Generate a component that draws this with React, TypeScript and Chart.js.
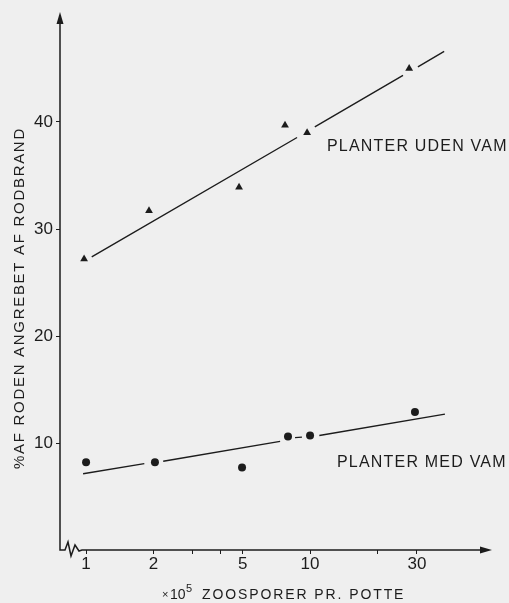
import { useEffect, useRef } from "react";
import { Chart, registerables } from "chart.js";

Chart.register(...registerables);

// ---- data ----
const xTickValues = [1, 2, 3, 4, 5, 10, 20, 30];
const xTickLabels = ["1", "2", "", "", "5", "10", "", "30"];
const yTickValues = [10, 20, 30, 40];

// planter uden VAM (triangles)
const udenX = [0.98, 1.91, 4.82, 7.73, 9.7, 27.7];
const udenY = [27.2, 31.7, 33.9, 39.7, 39.0, 45.0];

// planter med VAM (circles)
const medX = [1.0, 2.03, 4.97, 7.97, 10.0, 29.4];
const medY = [8.2, 8.2, 7.7, 10.6, 10.7, 12.9];

// fitted lines, as drawn (null = break in the line)
const udenFitX = [1.06, 8.75, 9.6, 10.5, 26.0, 28.0, 30.3, 39.7];
const udenFitY = [27.4, 38.55, null, 39.55, 44.35, null, 45.15, 46.6];

const medFitX = [0.97, 1.82, 1.95, 2.21, 7.35, 8.0, 8.57, 9.2, 9.6, 11.0, 40.0];
const medFitY = [7.13, 8.07, null, 8.3, 10.15, null, 10.5, 10.55, null, 10.7, 12.7];

const yTitle = "%AF RODEN ANGREBET AF RODBRAND";
const xTitleMain = "ZOOSPORER PR. POTTE";
const labelUden = "PLANTER UDEN VAM";
const labelMed = "PLANTER MED VAM";

const BG = "#efefef";
const INK = "#1c1c1c";
const FONT = '"Liberation Sans", Arial, sans-serif';

const zip = (xs: number[], ys: (number | null)[]) => xs.map((x, i) => ({ x, y: ys[i] }));

export default function App() {
  const ref = useRef<HTMLCanvasElement>(null);

  useEffect(() => {
    document.body.style.margin = "0";
    document.body.style.background = BG;

    const bgPlugin = {
      id: "bg",
      beforeDraw(chart: any) {
        const ctx = chart.ctx;
        ctx.save();
        ctx.fillStyle = BG;
        ctx.fillRect(0, 0, chart.width, chart.height);
        ctx.restore();
      },
    };

    const axesPlugin = {
      id: "axesDeco",
      beforeDatasetsDraw(chart: any) {
        const ctx = chart.ctx;
        const { left, top, right, bottom } = chart.chartArea;
        ctx.save();
        ctx.strokeStyle = INK;
        ctx.fillStyle = INK;
        ctx.lineWidth = 1.5;
        ctx.lineJoin = "miter";
        ctx.beginPath();
        ctx.moveTo(left, top + 6);
        ctx.lineTo(left, bottom);
        ctx.lineTo(left + 5, bottom);
        ctx.lineTo(left + 8, bottom - 8);
        ctx.lineTo(left + 11, bottom + 6);
        ctx.lineTo(left + 15, bottom - 5);
        ctx.lineTo(left + 19, bottom + 1);
        ctx.lineTo(left + 22, bottom);
        ctx.lineTo(right - 8, bottom);
        ctx.stroke();
        // arrow heads
        ctx.beginPath();
        ctx.moveTo(left, top - 3);
        ctx.lineTo(left - 3.5, top + 9);
        ctx.lineTo(left + 3.5, top + 9);
        ctx.closePath();
        ctx.fill();
        ctx.beginPath();
        ctx.moveTo(right, bottom);
        ctx.lineTo(right - 12, bottom - 3.5);
        ctx.lineTo(right - 12, bottom + 3.5);
        ctx.closePath();
        ctx.fill();
        ctx.restore();
      },
      afterDraw(chart: any) {
        const ctx = chart.ctx;
        ctx.save();
        ctx.fillStyle = INK;
        ctx.textBaseline = "alphabetic";

        // series labels
        ctx.font = `16px ${FONT}`;
        (ctx as any).letterSpacing = "1.2px";
        ctx.textAlign = "left";
        ctx.fillText(labelUden, 327, 151);
        ctx.fillText(labelMed, 337, 467);

        // x title
        ctx.font = `11px ${FONT}`;
        (ctx as any).letterSpacing = "0px";
        ctx.fillText("×", 162, 598);
        ctx.font = `14px ${FONT}`;
        ctx.fillText("10", 170, 599);
        ctx.font = `11px ${FONT}`;
        ctx.fillText("5", 186, 592);
        ctx.font = `14px ${FONT}`;
        (ctx as any).letterSpacing = "1.9px";
        ctx.fillText(xTitleMain, 202, 599);

        // y title
        ctx.translate(24, 298);
        ctx.rotate(-Math.PI / 2);
        ctx.textAlign = "center";
        ctx.font = `15px ${FONT}`;
        (ctx as any).letterSpacing = "1.7px";
        ctx.fillText(yTitle, 0, 0);
        ctx.restore();
      },
    };

    const chart = new Chart(ref.current!, {
      type: "scatter",
      data: {
        datasets: [
          {
            type: "line",
            label: "fit uden",
            data: zip(udenFitX, udenFitY) as any,
            borderColor: INK,
            borderWidth: 1.4,
            pointRadius: 0,
            spanGaps: false,
            fill: false,
          },
          {
            type: "line",
            label: "fit med",
            data: zip(medFitX, medFitY) as any,
            borderColor: INK,
            borderWidth: 1.4,
            pointRadius: 0,
            spanGaps: false,
            fill: false,
          },
          {
            label: labelUden,
            data: zip(udenX, udenY) as any,
            pointStyle: "triangle",
            pointRadius: 4.5,
            backgroundColor: INK,
            borderColor: INK,
            borderWidth: 0,
          },
          {
            label: labelMed,
            data: zip(medX, medY) as any,
            pointStyle: "circle",
            pointRadius: 4,
            backgroundColor: INK,
            borderColor: INK,
            borderWidth: 0,
          },
        ],
      },
      options: {
        responsive: false,
        animation: false,
        layout: { padding: { left: 0, top: 15, right: 17, bottom: 0 } },
        plugins: {
          legend: { display: false },
          tooltip: { enabled: false },
        },
        scales: {
          x: {
            type: "logarithmic",
            min: 0.765,
            max: 64.9,
            afterBuildTicks: (s: any) => {
              s.ticks = xTickValues.map((v) => ({ value: v }));
            },
            afterFit: (s: any) => {
              s.height = 53;
            },
            ticks: {
              autoSkip: false,
              maxRotation: 0,
              padding: 0,
              color: INK,
              font: { family: FONT, size: 17 },
              callback: (_v: any, i: number) => xTickLabels[i],
            },
            grid: {
              display: true,
              drawOnChartArea: false,
              drawTicks: true,
              tickLength: 4,
              color: INK,
              lineWidth: 1,
            },
            border: { display: false },
          },
          y: {
            min: 0,
            max: 50,
            afterBuildTicks: (s: any) => {
              s.ticks = yTickValues.map((v) => ({ value: v }));
            },
            afterFit: (s: any) => {
              s.width = 60;
            },
            ticks: {
              padding: 3,
              color: INK,
              font: { family: FONT, size: 17 },
              callback: (v: any) => String(v),
            },
            grid: {
              display: true,
              drawOnChartArea: false,
              drawTicks: true,
              tickLength: 4,
              color: INK,
              lineWidth: 1,
            },
            border: { display: false },
          },
        },
      },
      plugins: [bgPlugin, axesPlugin],
    });

    return () => chart.destroy();
  }, []);

  return (
    <div style={{ width: 509, height: 603, background: BG }}>
      <canvas ref={ref} width={509} height={603} style={{ display: "block" }} />
    </div>
  );
}
